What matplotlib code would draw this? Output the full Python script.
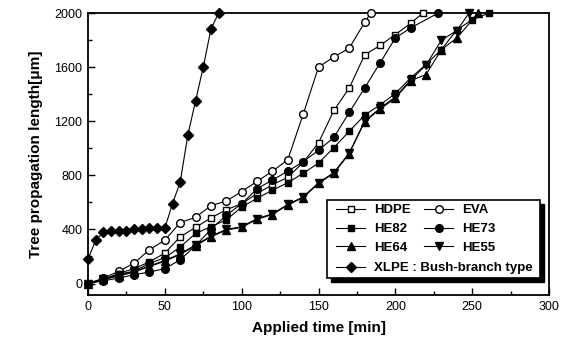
import matplotlib
matplotlib.use("Agg")
import matplotlib.pyplot as plt
import matplotlib.transforms as mtransforms
from matplotlib.patches import Rectangle
from matplotlib.ticker import MultipleLocator

plt.rcParams['font.family'] = ['Liberation Sans', 'DejaVu Sans']

# data (time in min, length in um)
t_hdpe = [0, 10, 20, 30, 40, 50, 60, 70, 80, 90, 100, 110, 120, 130, 140, 150, 160, 170, 180, 190, 200, 210, 218]
y_hdpe = [0, 30, 75, 110, 160, 225, 345, 415, 485, 545, 590, 665, 730, 785, 895, 1040, 1280, 1445, 1690, 1760, 1840, 1925, 2000]

t_eva = [0, 10, 20, 30, 40, 50, 60, 70, 80, 90, 100, 110, 120, 130, 140, 150, 160, 170, 180, 184]
y_eva = [0, 40, 90, 150, 250, 320, 450, 490, 575, 610, 680, 755, 830, 915, 1250, 1600, 1675, 1740, 1930, 2000]

t_he82 = [0, 10, 20, 30, 40, 50, 60, 70, 80, 90, 100, 110, 120, 130, 140, 150, 160, 170, 180, 190, 200, 210, 220, 230, 240, 250, 261]
y_he82 = [0, 30, 70, 90, 150, 190, 270, 370, 420, 470, 565, 630, 690, 745, 815, 890, 1005, 1125, 1245, 1320, 1405, 1520, 1620, 1730, 1875, 1950, 2000]

t_he73 = [0, 10, 20, 30, 40, 50, 60, 70, 80, 90, 100, 110, 120, 130, 140, 150, 160, 170, 180, 190, 200, 210, 228]
y_he73 = [0, 20, 40, 65, 85, 110, 175, 280, 400, 505, 590, 700, 765, 830, 900, 985, 1080, 1265, 1445, 1630, 1815, 1890, 2000]

t_he64 = [0, 10, 20, 30, 40, 50, 60, 70, 80, 90, 100, 110, 120, 130, 140, 150, 160, 170, 180, 190, 200, 210, 220, 230, 240, 254]
y_he64 = [0, 30, 55, 85, 125, 165, 215, 280, 345, 395, 415, 475, 510, 580, 635, 740, 815, 960, 1195, 1290, 1370, 1500, 1545, 1730, 1815, 2000]

t_he55 = [0, 10, 20, 30, 40, 50, 60, 70, 80, 90, 100, 110, 120, 130, 140, 150, 160, 170, 180, 190, 200, 210, 220, 230, 240, 248]
y_he55 = [0, 30, 60, 90, 130, 170, 220, 285, 350, 400, 420, 480, 515, 585, 640, 745, 820, 965, 1200, 1295, 1380, 1505, 1615, 1800, 1870, 2000]

t_xlpe = [0, 5, 10, 15, 20, 25, 30, 35, 40, 45, 50, 55, 60, 65, 70, 75, 80, 85]
y_xlpe = [180, 320, 380, 390, 390, 390, 405, 405, 410, 410, 410, 590, 750, 1100, 1350, 1600, 1880, 2000]

fig = plt.figure(figsize=(5.75, 3.45), dpi=100)
ax = fig.add_axes([88 / 575, 50 / 345, 461 / 575, 282 / 345])

lw = 0.8
ms = 5
common = dict(color='black', lw=lw, clip_on=False, zorder=3)

h_hdpe, = ax.plot(t_hdpe, y_hdpe, marker='s', ms=ms, mfc='white', mec='black', mew=1.0, **common)
h_eva, = ax.plot(t_eva, y_eva, marker='o', ms=ms + 0.5, mfc='white', mec='black', mew=1.0, **common)
h_he82, = ax.plot(t_he82, y_he82, marker='s', ms=ms, mfc='black', mec='black', **common)
h_he73, = ax.plot(t_he73, y_he73, marker='o', ms=ms + 0.5, mfc='black', mec='black', **common)
h_he64, = ax.plot(t_he64, y_he64, marker='^', ms=ms + 1, mfc='black', mec='black', **common)
h_he55, = ax.plot(t_he55, y_he55, marker='v', ms=ms + 1, mfc='black', mec='black', **common)
h_xlpe, = ax.plot(t_xlpe, y_xlpe, marker='D', ms=ms, mfc='black', mec='black', **common)

ax.set_xlim(0, 300)
ax.set_ylim(-85, 2000)
ax.xaxis.set_major_locator(MultipleLocator(50))
ax.xaxis.set_minor_locator(MultipleLocator(25))
ax.yaxis.set_major_locator(MultipleLocator(400))
ax.yaxis.set_minor_locator(MultipleLocator(200))
ax.tick_params(which='both', direction='in', width=1.0, labelsize=9, pad=4)
ax.tick_params(which='major', length=5)
ax.tick_params(which='minor', length=3)
for s in ax.spines.values():
    s.set_linewidth(1.3)

ax.set_xlabel('Applied time [min]', fontsize=11, fontweight='bold', labelpad=6)
ax.set_ylabel('Tree propagation length[\u03bcm]', fontsize=11, fontweight='bold', labelpad=8)

# legend box with a heavy shadow, like the original
x0, y0, x1, y1 = 0.518, 0.060, 0.98, 0.337
shadow_tr = mtransforms.offset_copy(ax.transAxes, fig=fig, x=4, y=-4, units='dots')
ax.add_patch(Rectangle((x0, y0), x1 - x0, y1 - y0, transform=shadow_tr,
                       facecolor='black', edgecolor='black', zorder=5, clip_on=False))
ax.add_patch(Rectangle((x0, y0), x1 - x0, y1 - y0, transform=ax.transAxes,
                       facecolor='white', edgecolor='black', lw=1.2, zorder=6, clip_on=False))

leg_kw = dict(frameon=False, prop={'weight': 'bold', 'size': 9.5}, handlelength=2.2,
              handletextpad=0.7, borderaxespad=0, borderpad=0, labelspacing=0.5)
leg1 = ax.legend([h_hdpe, h_he82, h_he64, h_eva, h_he73, h_he55],
                 ['HDPE', 'HE82', 'HE64', 'EVA', 'HE73', 'HE55'],
                 ncol=2, columnspacing=1.0, loc='upper left',
                 bbox_to_anchor=(x0 + 0.02, y1 - 0.015), **leg_kw)
leg1.set_zorder(7)
ax.add_artist(leg1)
leg2 = ax.legend([h_xlpe], ['XLPE : Bush-branch type'], loc='upper left',
                 bbox_to_anchor=(x0 + 0.02, y1 - 0.22), **leg_kw)
leg2.set_zorder(7)

fig.savefig('out.png', dpi=100)
